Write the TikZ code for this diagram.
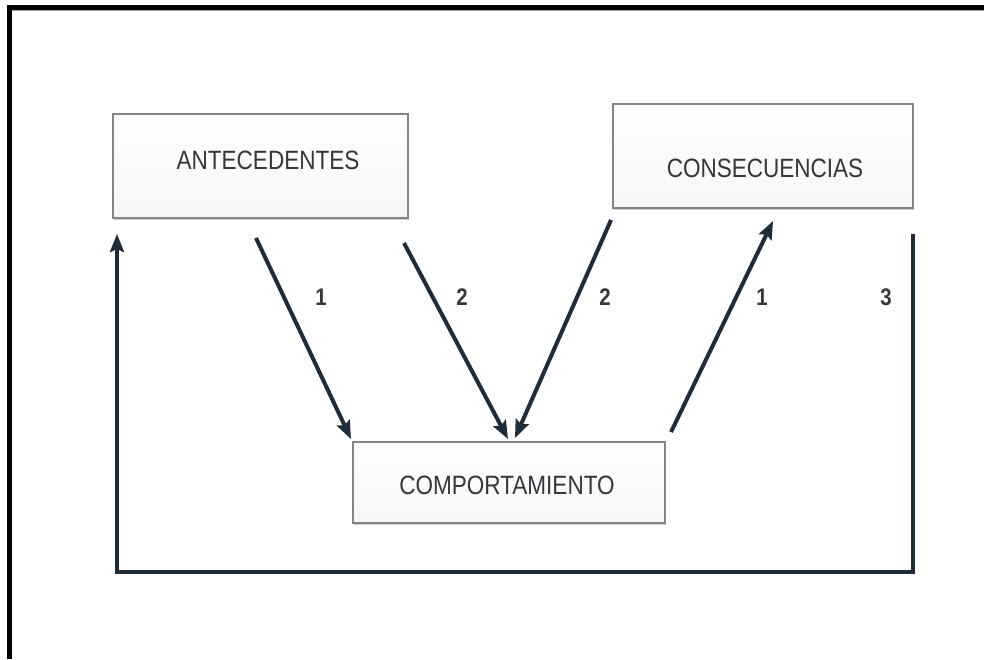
\documentclass[tikz,border=0pt]{standalone}
\usepackage{fontspec}
\setmainfont{Liberation Sans}[FakeStretch=0.85]
\usetikzlibrary{arrows.meta,calc,shadows}
\definecolor{navy}{HTML}{1E2C3B}
\definecolor{boxline}{HTML}{858585}
\definecolor{txt}{HTML}{34373C}
\tikzset{
  box/.style={rectangle, draw=boxline, line width=2pt, top color=white, bottom color=gray!7,
    drop shadow={shadow xshift=1pt, shadow yshift=-2pt, opacity=0.4}},
  boxtext/.style={font=\fontsize{26.5}{30}\selectfont, text=txt, inner sep=0pt},
  num/.style={font=\fontsize{24}{26}\selectfont\bfseries, text=txt, inner sep=0pt},
  conn/.style={draw=navy, line width=4pt, -{Stealth[length=18pt,width=14pt,inset=3pt]}},
  frameline/.style={draw=black, line width=5pt}
}
\begin{document}
\begin{tikzpicture}[x=1pt,y=-1pt]
\useasboundingbox (0,0) rectangle (984,659);
\fill[white] (0,0) rectangle (984,659);
% outer frame (top and left edges)
\draw[gray!70, line width=1pt] (11,10.8) -- (984,10.8);
\draw[frameline] (9,659) -- (9,7.5) -- (984,7.5);
% boxes
\node[box, minimum width=295pt, minimum height=104pt] (ant) at (260.5,166) {};
\node[box, minimum width=300pt, minimum height=104pt] (con) at (763,156) {};
\node[box, minimum width=312pt, minimum height=81pt] (com) at (509,482.5) {};
\node[boxtext] (antt) at (268,160) {ANTECEDENTES};
\node[boxtext] (cont) at (765,168) {CONSECUENCIAS};
\node[boxtext] (comt) at (507,485) {COMPORTAMIENTO};
% connectors
\coordinate (a1s) at ($(ant.south west)+(144,19)$);
\coordinate (a1e) at ($(com.north west)+(-1,-2)$);
\coordinate (a2s) at ($(ant.south east)+(-5,24)$);
\coordinate (a2e) at ($(com.north)+(-1,-2)$);
\coordinate (c2s) at ($(con.south west)+(-1,11)$);
\coordinate (c2e) at ($(com.north)+(6,-3)$);
\coordinate (c1s) at ($(com.north east)+(5,-9)$);
\coordinate (c1e) at ($(con.south)+(10,12)$);
\coordinate (l3s) at ($(con.south east)+(-1,25)$);
\coordinate (l3e) at ($(ant.south west)+(5,15)$);
\draw[conn] (a1s) -- (a1e);
\draw[conn] (a2s) -- (a2e);
\draw[conn] (c2s) -- (c2e);
\draw[conn] (c1s) -- (c1e);
\draw[conn, line join=miter] (l3s) -- (l3s |- 0,572) -- (l3e |- 0,572) -- (l3e);
% labels
\node[num] (n1) at (321,297) {1};
\node[num] (n2) at (462,297) {2};
\node[num] (n3) at (605,297) {2};
\node[num] (n4) at (762,297) {1};
\node[num] (n5) at (886,297) {3};
\end{tikzpicture}
\end{document}
